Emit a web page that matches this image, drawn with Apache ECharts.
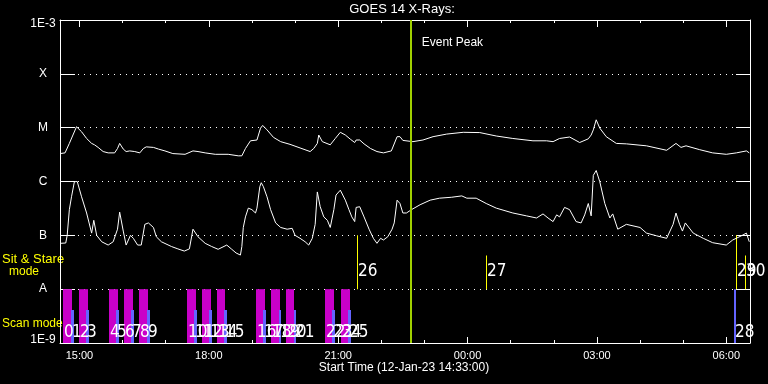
<!DOCTYPE html>
<html>
<head>
<meta charset="utf-8">
<script src="https://cdn.jsdelivr.net/npm/echarts@6/dist/echarts.min.js"></script>
<style>
  html, body { margin: 0; padding: 0; background: #000; }
  #chart { width: 768px; height: 384px; }
</style>
</head>
<body>
<div id="chart"></div>
<script>
// GOES 14 X-ray flux, 12-Jan-23 14:33 -> 13-Jan-23 06:33
const startTime = '14:33';
const endTime = '06:33';
const eventPeak = '22:41';

const xTickHours = [15, 16, 17, 18, 19, 20, 21, 22, 23, 24, 25, 26, 27, 28, 29, 30];
const xLabelHours = [15, 18, 21, 24, 27, 30];
const yLevels = [-9, -8, -7, -6, -5, -4, -3];
const yTickLabels = ['1E-9', 'A', 'B', 'C', 'M', 'X', '1E-3'];

// long channel (upper trace), W/m^2
const upperTimes = ['14:33','14:40','14:42','14:46','14:51','14:56','14:57','15:03','15:10','15:17',
  '15:21','15:26','15:33','15:40','15:49','15:53','15:56','16:01','16:05','16:10',
  '16:17','16:24','16:29','16:33','16:43','16:50','16:59','17:10','17:27','17:38',
  '17:45','17:55','18:09','18:27','18:41','18:46','18:51','18:58','19:07','19:12',
  '19:15','19:21','19:30','19:40','19:53','20:07','20:21','20:26','20:31','20:33',
  '20:38','20:49','20:56','21:03','21:10','21:17','21:23','21:25','21:30','21:36',
  '21:45','21:54','22:03','22:14','22:22','22:26','22:30','22:44','22:58','23:12',
  '23:31','23:54','00:17','00:40','01:03','01:31','01:50','01:59','02:08','02:22',
  '02:36','02:48','02:52','02:55','02:59','03:04','03:13','03:27','03:41','04:09',
  '04:37','04:50','04:57','05:04','05:23','05:41','06:00','06:14','06:28','06:32'];
const upperFlux = [3.3e-6,3.4e-6,3.6e-6,5.1e-6,7.3e-6,1.04e-5,1.08e-5,8.4e-6,6.3e-6,5.1e-6,
  4.8e-6,4.3e-6,3.6e-6,3.4e-6,3.4e-6,4.1e-6,5.1e-6,4.0e-6,3.6e-6,3.7e-6,
  3.6e-6,3.4e-6,4.1e-6,4.4e-6,4.3e-6,4.0e-6,3.7e-6,3.3e-6,3.2e-6,3.7e-6,
  3.6e-6,3.4e-6,3.2e-6,3.2e-6,3.0e-6,3.0e-6,4.1e-6,5.7e-6,5.9e-6,9.8e-6,
  1.1e-5,9.1e-6,6.6e-6,5.5e-6,4.9e-6,4.2e-6,3.6e-6,4.1e-6,5.1e-6,7.3e-6,
  5.5e-6,4.8e-6,6.3e-6,8.2e-6,7.3e-6,6.1e-6,5.3e-6,5.9e-6,5.9e-6,5.0e-6,
  4.1e-6,3.6e-6,3.4e-6,3.7e-6,6.8e-6,6.8e-6,5.8e-6,5.5e-6,5.9e-6,6.8e-6,
  7.6e-6,8.2e-6,8.1e-6,7.0e-6,6.3e-6,5.7e-6,5.7e-6,5.5e-6,6.3e-6,6.7e-6,
  5.3e-6,6.2e-6,7.3e-6,9.1e-6,1.4e-5,9.8e-6,6.8e-6,5.1e-6,5.0e-6,4.6e-6,
  3.8e-6,5.1e-6,4.3e-6,4.6e-6,3.9e-6,3.4e-6,3.2e-6,3.4e-6,3.7e-6,3.4e-6];

// short channel (lower trace), W/m^2
const lowerTimes = ['14:33','14:41','14:43','14:46','14:49','14:53','14:57','15:03','15:10','15:17',
  '15:20','15:24','15:31','15:40','15:47','15:53','15:56','16:01','16:05','16:11',
  '16:15','16:21','16:26','16:31','16:36','16:43','16:47','16:54','17:08','17:17',
  '17:26','17:33','17:38','17:45','17:55','18:04','18:13','18:25','18:32','18:38',
  '18:44','18:46','18:48','18:51','18:55','19:00','19:05','19:07','19:11','19:13',
  '19:16','19:21','19:26','19:33','19:40','19:49','19:56','20:00','20:07','20:14',
  '20:19','20:24','20:28','20:31','20:35','20:40','20:45','20:49','20:54','20:57',
  '21:03','21:10','21:15','21:19','21:23','21:25','21:30','21:36','21:43','21:49',
  '21:54','21:59','22:03','22:09','22:15','22:18','22:22','22:26','22:30','22:35',
  '22:42','22:54','23:08','23:21','23:38','23:52','23:59','00:12','00:26','00:40',
  '01:03','01:22','01:36','01:45','01:52','01:59','02:04','02:08','02:15','02:22',
  '02:31','02:38','02:43','02:48','02:52','02:55','02:59','03:04','03:11','03:18',
  '03:22','03:29','03:41','04:00','04:09','04:23','04:37','04:46','04:50','04:55',
  '04:59','05:03','05:14','05:28','05:41','06:00','06:09','06:21','06:28','06:32'];
const lowerFlux = [7.1e-8,7.2e-8,1.0e-7,3.0e-7,5.2e-7,9.9e-7,1.0e-6,5.2e-7,2.6e-7,1.1e-7,
  1.9e-7,1.0e-7,7.6e-8,6.6e-8,7.6e-8,1.3e-7,2.7e-7,1.2e-7,6.6e-8,1.0e-7,
  8.8e-8,6.6e-8,6.6e-8,1.6e-7,1.7e-7,1.4e-7,9.4e-8,7.6e-8,6.2e-8,5.6e-8,
  5.1e-8,5.6e-8,1.3e-7,9.4e-8,7.1e-8,6.2e-8,5.5e-8,6.6e-8,5.5e-8,4.7e-8,
  4.3e-8,6.2e-8,1.4e-7,2.2e-7,3.2e-7,3.0e-7,2.6e-7,3.2e-7,8.0e-7,9.5e-7,
  8.0e-7,5.2e-7,3.0e-7,1.7e-7,1.4e-7,1.3e-7,1.35e-7,1.0e-7,8.8e-8,7.6e-8,
  6.6e-8,8.8e-8,1.6e-7,6.4e-7,3.4e-7,2.2e-7,1.9e-7,1.4e-7,3.0e-7,5.6e-7,
  6.9e-7,4.5e-7,3.0e-7,2.2e-7,1.8e-7,3.3e-7,3.4e-7,2.2e-7,1.3e-7,8.8e-8,
  7.1e-8,8.8e-8,8.2e-8,9.4e-8,1.3e-7,1.7e-7,4.5e-7,3.9e-7,2.6e-7,2.6e-7,
  3.0e-7,3.7e-7,4.5e-7,4.9e-7,5.1e-7,5.4e-7,4.9e-7,4.9e-7,3.9e-7,3.2e-7,
  2.6e-7,2.3e-7,2.1e-7,2.5e-7,2.1e-7,1.8e-7,2.4e-7,2.2e-7,3.3e-7,3.0e-7,
  1.8e-7,1.7e-7,2.4e-7,3.9e-7,2.3e-7,1.3e-6,1.6e-6,9.9e-7,3.9e-7,2.1e-7,
  2.5e-7,1.3e-7,1.6e-7,1.4e-7,1.1e-7,9.8e-8,8.8e-8,1.6e-7,2.6e-7,1.6e-7,
  1.2e-7,1.7e-7,1.1e-7,8.8e-8,7.3e-8,6.6e-8,8.2e-8,9.8e-8,1.1e-7,7.6e-8];

// observing log: 'scan' (magenta), 'scan2' (blue), 'stare' (sit & stare, yellow)
const eventIds = [0,1,2,3,4,5,6,7,8,9,10,11,12,13,14,15,16,17,18,19,20,21,22,23,24,25,26,27,28,29,30];
const eventMode = ['scan','scan2','scan','scan2','scan','scan2','scan','scan2','scan','scan2',
  'scan','scan2','scan','scan2','scan','scan2','scan','scan2','scan','scan2',
  'scan','scan2','scan','scan2','scan','scan2','stare','stare','scan2','stare','stare'];
const eventStart = ['14:37','14:48','15:00','15:09','15:41','15:51','16:02','16:12','16:23','16:34',
  '17:30','17:39','17:51','18:00','18:11','18:21','19:06','19:16','19:27','19:37',
  '19:47','19:58','20:42','20:52','21:04','21:14','21:26','00:26','06:11','06:14','06:26'];
const eventEnd = ['14:49','14:52','15:12','15:13','15:53','15:55','16:14','16:16','16:35','16:38',
  '17:42','17:43','18:03','18:04','18:23','18:25','19:18','19:20','19:39','19:41',
  '19:59','20:02','20:54','20:56','21:16','21:18','21:26','00:26','06:14','06:14','06:26'];
const eventTop = [1e-8,4.1e-9,1e-8,4.1e-9,1e-8,4.1e-9,1e-8,4.1e-9,1e-8,4.1e-9,
  1e-8,4.1e-9,1e-8,4.1e-9,1e-8,4.1e-9,1e-8,4.1e-9,1e-8,4.1e-9,
  1e-8,4.1e-9,1e-8,4.1e-9,1e-8,4.1e-9,1e-7,4.2e-8,1e-8,1e-7,4.2e-8];

function toHours(s) {
  const [h, m] = s.split(':').map(Number);
  let v = h + m / 60;
  if (v < 12) v += 24; // next day
  return v;
}
const pad = n => (n < 10 ? '0' : '') + n;

const FONT = '"Liberation Sans", Arial, sans-serif';
const NUM_FONT = '17px "Liberation Sans Narrow", "DejaVu Sans Condensed", "Liberation Sans", sans-serif';
const modeColor = { scan: '#c800c8', scan2: '#6464ff', stare: '#ffff00' };

const chart = echarts.init(document.getElementById('chart'));

const xBase = { type: 'value', min: toHours(startTime), max: toHours(endTime), splitLine: { show: false } };
const white = { color: '#fff', width: 1 };

const eventData = eventIds.map((id, i) => [id, toHours(eventStart[i]), toHours(eventEnd[i]), Math.log10(eventTop[i])]);

chart.setOption({
  animation: false,
  backgroundColor: '#000',
  grid: { left: 60, right: 18, top: 20, bottom: 41 },
  xAxis: [
    Object.assign({}, xBase, {
      position: 'bottom',
      axisLine: { show: true, onZero: false, lineStyle: white },
      axisTick: { inside: true, length: 6, customValues: xLabelHours, lineStyle: white },
      axisLabel: {
        customValues: xLabelHours, color: '#fff', fontSize: 11, fontFamily: FONT, margin: 7,
        formatter: v => pad(Math.round(v) % 24) + ':00'
      }
    }),
    Object.assign({}, xBase, {
      position: 'bottom',
      axisLine: { show: false, onZero: false },
      axisTick: { inside: true, length: 3, customValues: xTickHours, lineStyle: white },
      axisLabel: { show: false }
    }),
    Object.assign({}, xBase, {
      position: 'top',
      axisLine: { show: true, onZero: false, lineStyle: white },
      axisTick: { inside: true, length: 7, customValues: xLabelHours, lineStyle: white },
      axisLabel: { show: false }
    }),
    Object.assign({}, xBase, {
      position: 'top',
      axisLine: { show: false, onZero: false },
      axisTick: { inside: true, length: 3, customValues: xTickHours, lineStyle: white },
      axisLabel: { show: false }
    })
  ],
  yAxis: [
    {
      type: 'value', min: -9, max: -3, interval: 1, position: 'left',
      axisLine: { show: true, onZero: false, lineStyle: white },
      axisTick: { show: true, inside: true, length: 15, lineStyle: white },
      axisLabel: {
        color: '#fff', fontSize: 12, fontFamily: FONT, align: 'center', margin: 17,
        formatter: v => {
          const t = yTickLabels[yLevels.indexOf(v)];
          if (v === -3) return '{top|' + t + '}';
          if (v === -9) return '{bot|' + t + '}';
          return t;
        },
        rich: {
          top: { color: '#fff', fontSize: 12, fontFamily: FONT, padding: [8, 0, 0, 0] },
          bot: { color: '#fff', fontSize: 12, fontFamily: FONT, padding: [0, 0, 7, 0] }
        }
      },
      splitLine: { show: true, lineStyle: { color: '#fff', width: 1, type: [1, 5] } }
    },
    {
      type: 'value', min: -9, max: -3, interval: 1, position: 'right',
      axisLine: { show: true, onZero: false, lineStyle: white },
      axisTick: { show: true, inside: true, length: 14, lineStyle: white },
      axisLabel: { show: false },
      splitLine: { show: false }
    }
  ],
  graphic: [
    { type: 'text', x: 402, y: 9, style: { text: 'GOES 14 X-Rays:', fill: '#fff', font: '13px ' + FONT, align: 'center', verticalAlign: 'middle' } },
    { type: 'text', x: 2, y: 259, style: { text: 'Sit & Stare', fill: '#ffff00', font: '13px ' + FONT, align: 'left', verticalAlign: 'middle' } },
    { type: 'text', x: 24, y: 271.5, style: { text: 'mode', fill: '#ffff00', font: '12px ' + FONT, align: 'center', verticalAlign: 'middle' } },
    { type: 'text', x: 2, y: 323.5, style: { text: 'Scan mode', fill: '#ffff00', font: '12px ' + FONT, align: 'left', verticalAlign: 'middle' } },
    { type: 'text', x: 404, y: 368, style: { text: 'Start Time (12-Jan-23 ' + startTime + ':00)', fill: '#fff', font: '12px ' + FONT, align: 'center', verticalAlign: 'middle' } }
  ],
  series: [
    {
      type: 'custom',
      z: 2,
      data: eventData,
      renderItem: (params, api) => {
        const i = api.value(0);
        const mode = eventMode[i];
        const top = api.coord([api.value(1), api.value(3)]);
        if (mode === 'stare') {
          const base = api.coord([api.value(1), -8]);
          return { type: 'rect', shape: { x: Math.round(top[0]), y: top[1], width: 1, height: base[1] - top[1] }, style: { fill: modeColor.stare } };
        }
        const end = api.coord([api.value(2), -9]);
        const x0 = Math.round(top[0]);
        const x1 = Math.round(end[0]);
        return { type: 'rect', shape: { x: x0, y: top[1], width: Math.max(1, x1 - x0), height: end[1] - top[1] }, style: { fill: modeColor[mode] } };
      }
    },
    {
      type: 'custom',
      z: 5,
      data: eventData,
      renderItem: (params, api) => {
        const i = api.value(0);
        const level = eventMode[i] === 'stare' ? -7.68 : -8.81;
        const p = api.coord([api.value(1), level]);
        return { type: 'text', x: Math.round(p[0]) + 1, y: p[1], style: { text: String(i), fill: '#fff', font: NUM_FONT, align: 'left', verticalAlign: 'middle' } };
      }
    },
    {
      type: 'line',
      z: 3,
      symbol: 'none',
      data: upperTimes.map((t, i) => [toHours(t), Math.log10(upperFlux[i])]),
      lineStyle: { color: '#fff', width: 1 },
      markLine: {
        silent: true, symbol: 'none', label: { show: false },
        lineStyle: { color: '#a0d000', width: 2, type: 'solid' },
        data: [{ xAxis: toHours(eventPeak) }]
      }
    },
    {
      type: 'line',
      z: 3,
      symbol: 'none',
      data: lowerTimes.map((t, i) => [toHours(t), Math.log10(lowerFlux[i])]),
      lineStyle: { color: '#fff', width: 1 }
    },
    {
      type: 'custom',
      z: 5,
      data: [[toHours(eventPeak), -3.42]],
      renderItem: (params, api) => {
        const p = api.coord([api.value(0), api.value(1)]);
        return { type: 'text', x: p[0] + 11, y: p[1], style: { text: 'Event Peak', fill: '#fff', font: '12px ' + FONT, align: 'left', verticalAlign: 'middle' } };
      }
    }
  ]
});
</script>
</body>
</html>
